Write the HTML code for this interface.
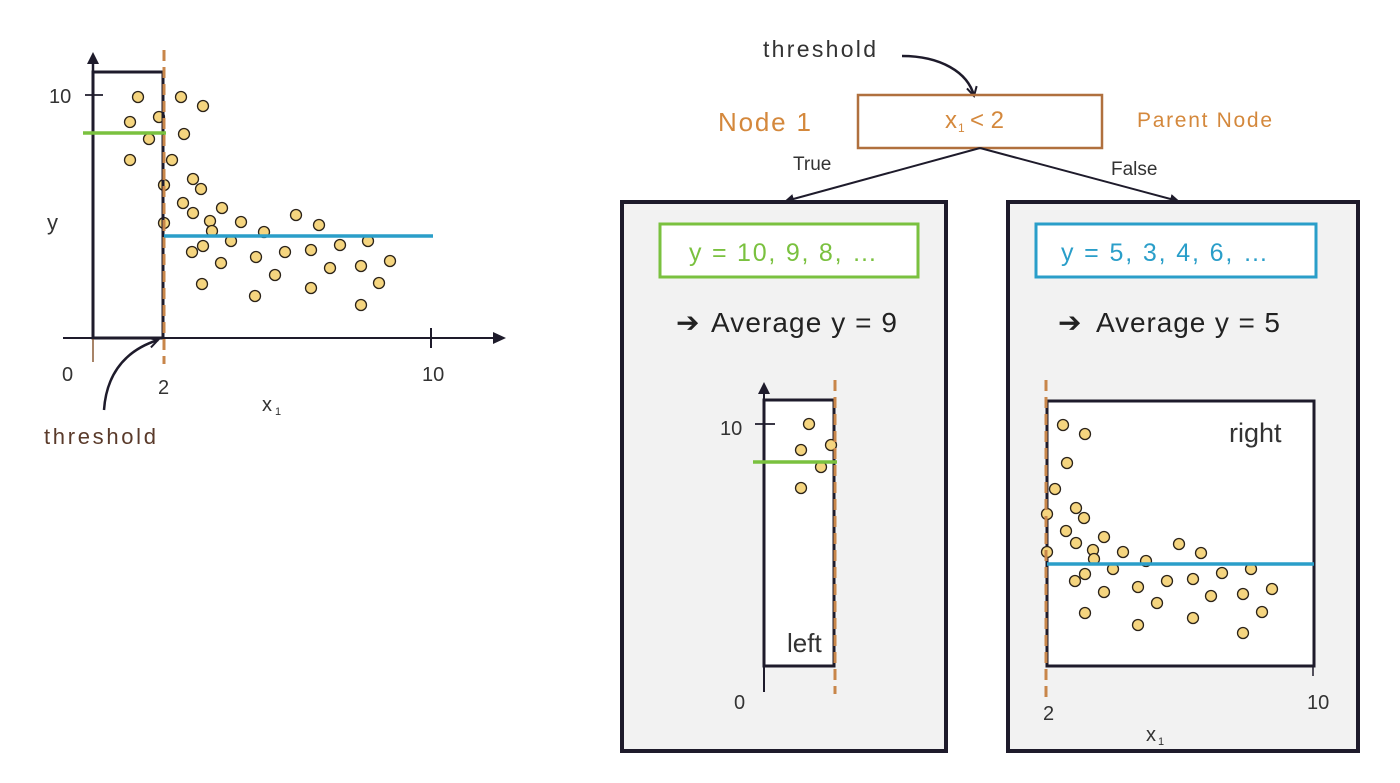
<!DOCTYPE html>
<html><head><meta charset="utf-8"><style>
html,body{margin:0;padding:0;background:#fff;width:1400px;height:783px;overflow:hidden}
svg{display:block}
text{font-family:"Liberation Sans",sans-serif}
</style></head><body>
<svg width="1400" height="783" viewBox="0 0 1400 783" xmlns="http://www.w3.org/2000/svg">
<defs>
<marker id="ah" markerWidth="10" markerHeight="10" refX="8" refY="5" orient="auto" markerUnits="userSpaceOnUse"><path d="M0,0 L10,5 L0,10 z" fill="#1e1b2b"/></marker>
<marker id="ah2" markerWidth="12" markerHeight="12" refX="10" refY="6" orient="auto" markerUnits="userSpaceOnUse"><path d="M1,1 L10,6 L1,11" fill="none" stroke="#1e1b2b" stroke-width="2"/></marker>
</defs>
<g fill="#f5d57f" stroke="#2a2218" stroke-width="1.3">
<!-- left plot dots -->
<circle cx="138" cy="97" r="5.5"/><circle cx="181" cy="97" r="5.5"/><circle cx="203" cy="106" r="5.5"/><circle cx="130" cy="122" r="5.5"/><circle cx="159" cy="117" r="5.5"/><circle cx="149" cy="139" r="5.5"/><circle cx="184" cy="134" r="5.5"/><circle cx="130" cy="160" r="5.5"/><circle cx="172" cy="160" r="5.5"/><circle cx="193" cy="179" r="5.5"/><circle cx="201" cy="189" r="5.5"/><circle cx="164" cy="185" r="5.5"/><circle cx="183" cy="203" r="5.5"/><circle cx="193" cy="213" r="5.5"/><circle cx="222" cy="208" r="5.5"/><circle cx="210" cy="221" r="5.5"/><circle cx="241" cy="222" r="5.5"/><circle cx="212" cy="231" r="5.5"/><circle cx="264" cy="232" r="5.5"/><circle cx="231" cy="241" r="5.5"/><circle cx="296" cy="215" r="5.5"/><circle cx="319" cy="225" r="5.5"/><circle cx="192" cy="252" r="5.5"/><circle cx="203" cy="246" r="5.5"/><circle cx="221" cy="263" r="5.5"/><circle cx="256" cy="257" r="5.5"/><circle cx="285" cy="252" r="5.5"/><circle cx="311" cy="250" r="5.5"/><circle cx="340" cy="245" r="5.5"/><circle cx="368" cy="241" r="5.5"/><circle cx="202" cy="284" r="5.5"/><circle cx="255" cy="296" r="5.5"/><circle cx="275" cy="275" r="5.5"/><circle cx="330" cy="268" r="5.5"/><circle cx="361" cy="266" r="5.5"/><circle cx="390" cy="261" r="5.5"/><circle cx="311" cy="288" r="5.5"/><circle cx="379" cy="283" r="5.5"/><circle cx="361" cy="305" r="5.5"/><circle cx="164" cy="223" r="5.5"/>
</g>
<!-- left plot structure -->
<rect x="93" y="72" width="70" height="266" fill="none" stroke="#1e1b2b" stroke-width="3"/>
<line x1="93" y1="338" x2="93" y2="62" stroke="#1e1b2b" stroke-width="2.5"/>
<path d="M87,64 L93,52 L99,64 z" fill="#1e1b2b"/>
<line x1="93" y1="338" x2="93" y2="362" stroke="#8a5a35" stroke-width="1.5"/>
<line x1="63" y1="338" x2="495" y2="338" stroke="#1e1b2b" stroke-width="2"/>
<path d="M493,332 L506,338 L493,344 z" fill="#1e1b2b"/>
<line x1="431" y1="328" x2="431" y2="348" stroke="#1e1b2b" stroke-width="2"/>
<line x1="85" y1="95" x2="103" y2="95" stroke="#1e1b2b" stroke-width="1.8"/>
<line x1="164" y1="50" x2="164" y2="364" stroke="#c8864a" stroke-width="3" stroke-dasharray="11,6"/>
<line x1="83" y1="133" x2="166" y2="133" stroke="#7ac13f" stroke-width="3.5"/>
<line x1="164" y1="236" x2="433" y2="236" stroke="#2a9ec9" stroke-width="3.5"/>
<path d="M104,410 C106,380 120,352 158,340" fill="none" stroke="#1e1b2b" stroke-width="2.5" marker-end="url(#ah2)"/>
<g fill="#333" font-size="20">
<text x="49" y="103">10</text>
<text x="47" y="230" font-size="22">y</text>
<text x="62" y="381">0</text>
<text x="158" y="394">2</text>
<text x="422" y="381">10</text>
<text x="262" y="411">x</text><text x="275" y="415" font-size="11">1</text>
<text x="44" y="444" font-size="22" fill="#5a3a2a" textLength="112">threshold</text>
</g>
<!-- top tree -->
<text x="763" y="57" font-size="23" fill="#333" textLength="113">threshold</text>
<path d="M902,56 C940,56 968,72 974,96" fill="none" stroke="#1e1b2b" stroke-width="2.5" marker-end="url(#ah2)"/>
<rect x="858" y="95" width="244" height="53" fill="none" stroke="#b0703e" stroke-width="2.5"/>
<text x="718" y="131" font-size="26" fill="#d4883c" textLength="93">Node 1</text>
<text x="945" y="128" font-size="24" fill="#d4883c">x</text><text x="958" y="132" font-size="12" fill="#d4883c">1</text>
<text x="970" y="128" font-size="24" fill="#d4883c">&lt; 2</text>
<text x="1137" y="127" font-size="21" fill="#d4883c" textLength="135">Parent Node</text>
<line x1="980" y1="148" x2="786" y2="201" stroke="#1e1b2b" stroke-width="2" marker-end="url(#ah)"/>
<line x1="980" y1="148" x2="1178" y2="201" stroke="#1e1b2b" stroke-width="2" marker-end="url(#ah)"/>
<text x="793" y="170" font-size="19" fill="#333">True</text>
<text x="1111" y="175" font-size="19" fill="#333">False</text>
<!-- child boxes -->
<rect x="622" y="202" width="324" height="549" fill="#f2f2f2" stroke="#1e1b2b" stroke-width="4"/>
<rect x="1008" y="202" width="350" height="549" fill="#f2f2f2" stroke="#1e1b2b" stroke-width="4"/>
<rect x="660" y="224" width="258" height="53" fill="#fff" stroke="#7ac13f" stroke-width="3"/>
<rect x="1036" y="224" width="280" height="53" fill="#fff" stroke="#2a9ec9" stroke-width="3"/>
<text x="689" y="261" font-size="25" fill="#7ac13f" textLength="188">y = 10, 9, 8, …</text>
<text x="1061" y="261" font-size="25" fill="#2a9ec9" textLength="207">y = 5, 3, 4, 6, …</text>
<text x="676" y="332" font-size="28" fill="#222">➔</text>
<text x="711" y="332" font-size="28" fill="#222" textLength="186">Average y = 9</text>
<text x="1058" y="332" font-size="28" fill="#222">➔</text>
<text x="1096" y="332" font-size="28" fill="#222" textLength="184">Average y = 5</text>
<!-- left mini plot -->
<rect x="764" y="400" width="70" height="266" fill="#fff" stroke="#1e1b2b" stroke-width="3"/>
<line x1="764" y1="392" x2="764" y2="692" stroke="#1e1b2b" stroke-width="2"/>
<path d="M758,394 L764,382 L770,394 z" fill="#1e1b2b"/>
<line x1="755" y1="424" x2="775" y2="424" stroke="#1e1b2b" stroke-width="1.8"/>
<g fill="#f5d57f" stroke="#2a2218" stroke-width="1.3">
<circle cx="809" cy="424" r="5.5"/><circle cx="801" cy="450" r="5.5"/><circle cx="831" cy="445" r="5.5"/><circle cx="821" cy="467" r="5.5"/><circle cx="801" cy="488" r="5.5"/>
</g>
<line x1="753" y1="462" x2="837" y2="462" stroke="#7ac13f" stroke-width="3.5"/>
<line x1="835" y1="380" x2="835" y2="694" stroke="#c8864a" stroke-width="3" stroke-dasharray="11,6"/>
<text x="720" y="435" font-size="20" fill="#333">10</text>
<text x="734" y="709" font-size="20" fill="#333">0</text>
<text x="787" y="652" font-size="26" fill="#333">left</text>
<!-- right mini plot -->
<rect x="1047" y="401" width="267" height="265" fill="#fff" stroke="#1e1b2b" stroke-width="3"/>
<line x1="1313" y1="666" x2="1313" y2="676" stroke="#1e1b2b" stroke-width="1.5"/>
<g fill="#f5d57f" stroke="#2a2218" stroke-width="1.3">
<circle cx="1063" cy="425" r="5.5"/><circle cx="1085" cy="434" r="5.5"/><circle cx="1067" cy="463" r="5.5"/><circle cx="1055" cy="489" r="5.5"/><circle cx="1047" cy="514" r="5.5"/><circle cx="1076" cy="508" r="5.5"/><circle cx="1084" cy="518" r="5.5"/><circle cx="1066" cy="531" r="5.5"/><circle cx="1076" cy="543" r="5.5"/><circle cx="1047" cy="552" r="5.5"/><circle cx="1093" cy="550" r="5.5"/><circle cx="1104" cy="537" r="5.5"/><circle cx="1123" cy="552" r="5.5"/><circle cx="1094" cy="559" r="5.5"/><circle cx="1146" cy="561" r="5.5"/><circle cx="1179" cy="544" r="5.5"/><circle cx="1201" cy="553" r="5.5"/><circle cx="1113" cy="569" r="5.5"/><circle cx="1085" cy="574" r="5.5"/><circle cx="1075" cy="581" r="5.5"/><circle cx="1104" cy="592" r="5.5"/><circle cx="1138" cy="587" r="5.5"/><circle cx="1167" cy="581" r="5.5"/><circle cx="1193" cy="579" r="5.5"/><circle cx="1222" cy="573" r="5.5"/><circle cx="1251" cy="569" r="5.5"/><circle cx="1085" cy="613" r="5.5"/><circle cx="1157" cy="603" r="5.5"/><circle cx="1138" cy="625" r="5.5"/><circle cx="1193" cy="618" r="5.5"/><circle cx="1211" cy="596" r="5.5"/><circle cx="1243" cy="594" r="5.5"/><circle cx="1272" cy="589" r="5.5"/><circle cx="1262" cy="612" r="5.5"/><circle cx="1243" cy="633" r="5.5"/>
</g>
<line x1="1047" y1="564" x2="1314" y2="564" stroke="#2a9ec9" stroke-width="3.5"/>
<line x1="1046" y1="380" x2="1046" y2="700" stroke="#c8864a" stroke-width="3" stroke-dasharray="11,6"/>
<text x="1229" y="442" font-size="27" fill="#333">right</text>
<text x="1043" y="720" font-size="20" fill="#333">2</text>
<text x="1307" y="709" font-size="20" fill="#333">10</text>
<text x="1146" y="741" font-size="20" fill="#333">x</text><text x="1158" y="745" font-size="11" fill="#333">1</text>
</svg>
</body></html>
